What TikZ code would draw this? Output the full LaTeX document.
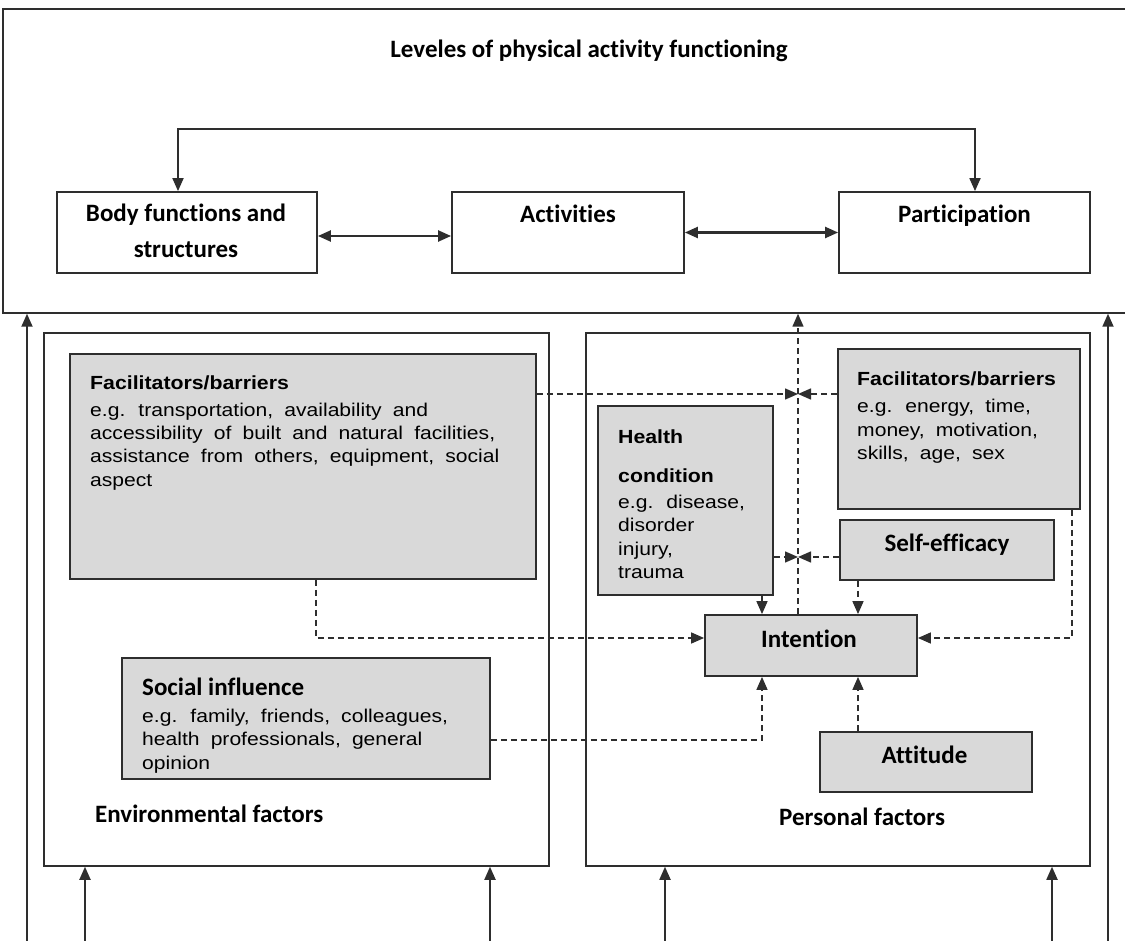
\documentclass[tikz,border=0pt]{standalone}
\usepackage{fontspec}
\usetikzlibrary{arrows.meta,calc}
\newfontfamily\lblfont{Carlito}[Ligatures=NoCommon]
\newfontfamily\txtfont{Liberation Sans}[FakeStretch=1.14,WordSpace=1.9]
\newfontfamily\hdfont{Liberation Sans}[FakeStretch=1.12]
\definecolor{boxgray}{HTML}{D9D9D9}
\definecolor{edge}{HTML}{2E2E2E}
\newcommand\lbl{\lblfont\bfseries\fontsize{25}{30}\selectfont}
\newcommand\mytxt{\txtfont\fontsize{18.5}{23.5}\selectfont}
\newcommand\hd{\hdfont\bfseries\fontsize{19}{23.5}\selectfont}
\newcommand\mlines[1]{\begin{tabular}[t]{@{}l@{}}#1\end{tabular}}
\begin{document}
\begin{tikzpicture}[x=1pt,y=-1pt,line join=miter,
  frame/.style={draw=edge,line width=1.5pt,fill=white,inner sep=0},
  wbox/.style={draw=edge,line width=1.8pt,fill=white,inner sep=0},
  gbox/.style={draw=edge,line width=1.8pt,fill=boxgray,inner sep=0},
  tip/.tip={Triangle[length=13pt,width=11pt]},
  sarr/.style={draw=edge,line width=1.8pt,-tip},
  sboth/.style={draw=edge,line width=2.2pt,tip-tip},
  darr/.style={draw=edge,line width=1.5pt,dash pattern=on 6pt off 4pt,-tip},
  txt/.style={anchor=base west,inner sep=0},
  ctxt/.style={anchor=base,inner sep=0}]
\useasboundingbox (0,0) rectangle (1125,941);
\fill[white] (0,0) rectangle (1125,941);

% top frame
\node[frame,minimum width=1130,minimum height=304] (topframe) at (568,161) {};
\node[ctxt,font=\lbl] (title) at (589,58) {Leveles of physical activity functioning};
\node[wbox,minimum width=260,minimum height=81] (body) at (187,232.5) {};
\node[ctxt,font=\lbl] (bodyt) at (186,222) {\begin{tabular}[t]{@{}c@{}}Body functions and\\[6pt] structures\end{tabular}};
\node[wbox,minimum width=232,minimum height=81] (act) at (568,232.5) {};
\node[ctxt,font=\lbl] (actt) at (568,223) {Activities};
\node[wbox,minimum width=251,minimum height=81] (part) at (964.5,232.5) {};
\node[ctxt,font=\lbl] (partt) at (964.5,223) {Participation};

% factor frames
\node[frame,minimum width=505,minimum height=533] (env) at (296.5,599.5) {};
\node[frame,minimum width=504,minimum height=533] (pers) at (838,599.5) {};

% environmental
\node[gbox,minimum width=466,minimum height=225] (envfac) at (303,466.5) {};
\node[txt,font=\hd] (envfach) at (90,390) {Facilitators/barriers};
\node[txt,font=\mytxt] (envfacb) at (90,416) {\mlines{e.g. transportation, availability and\\ accessibility of built and natural facilities,\\ assistance from others, equipment, social\\ aspect}};
\node[gbox,minimum width=368,minimum height=121] (social) at (306,718.5) {};
\node[txt,font=\lbl] (socialh) at (142,695) {Social influence};
\node[txt,font=\mytxt] (socialb) at (142,722) {\mlines{e.g. family, friends, colleagues,\\ health professionals, general\\ opinion}};
\node[txt,font=\lbl] (envl) at (95,822) {Environmental factors};

% personal
\node[gbox,minimum width=242,minimum height=160] (persfac) at (959,429) {};
\node[txt,font=\hd] (persfach) at (857,385) {Facilitators/barriers};
\node[txt,font=\mytxt] (persfacb) at (857,413) {\mlines{e.g. energy, time,\\ money, motivation,\\ skills, age, sex}};
\node[gbox,minimum width=175,minimum height=189] (health) at (685.5,500.5) {};
\node[txt,font=\hd] (healthh) at (618,443) {Health};
\node[txt,font=\hd] (healthc) at (618,482) {condition};
\node[txt,font=\mytxt] (healthb) at (618,508) {\mlines{e.g. disease,\\ disorder\\ injury,\\ trauma}};
\node[gbox,minimum width=214,minimum height=60] (self) at (947,550) {};
\node[ctxt,font=\lbl] (selft) at (947,551) {Self-efficacy};
\node[gbox,minimum width=212,minimum height=61] (intention) at (811,645.5) {};
\node[ctxt,font=\lbl] (intentiont) at (809,647) {Intention};
\node[gbox,minimum width=212,minimum height=60] (attitude) at (926,762) {};
\node[ctxt,font=\lbl] (attitudet) at (924.5,763) {Attitude};
\node[txt,font=\lbl] (persl) at (779,825) {Personal factors};

% solid connectors
\coordinate (topl) at (178,129);
\coordinate (topr) at (975,129);
\draw[draw=edge,line width=1.8pt,tip-tip] (topl |- body.north) -- (topl) -- (topr) -- (topr |- part.north);
\draw[sboth] ($(body.east)+(0,3.5)$) -- ($(act.west)+(0,3.5)$);
\draw[sboth] (act.east) -- (part.west);
\coordinate (bl) at (27,941);
\coordinate (br) at (1108,941);
\draw[sarr] (bl) -- (bl |- topframe.south);
\draw[sarr] (br) -- (br |- topframe.south);
\coordinate (e1) at (85,941);
\coordinate (e2) at (490,941);
\coordinate (p1) at (665,941);
\coordinate (p2) at (1052,941);
\draw[sarr] (e1) -- (e1 |- env.south);
\draw[sarr] (e2) -- (e2 |- env.south);
\draw[sarr] (p1) -- (p1 |- pers.south);
\draw[sarr] (p2) -- (p2 |- pers.south);

% dashed connectors
\coordinate (va) at (798,394);
\coordinate (vb) at (798,557);
\draw[darr] (envfac.east |- va) -- (va);
\draw[darr] (persfac.west |- va) -- (va);
\draw[darr] (health.east |- vb) -- (vb);
\draw[darr] (self.west |- vb) -- (vb);
\draw[darr] (intention.north -| va) -- (topframe.south -| va);
\coordinate (xh) at (762,0);
\coordinate (xs) at (858,0);
\draw[darr] (health.south -| xh) -- (intention.north -| xh);
\draw[darr] (self.south -| xs) -- (intention.north -| xs);
\draw[darr] (attitude.north -| xs) -- (intention.south -| xs);
\coordinate (yi) at (0,638);
\coordinate (xf) at (1072,0);
\coordinate (xe) at (316,0);
\draw[darr] (persfac.south -| xf) |- (intention.east |- yi);
\draw[darr] (envfac.south -| xe) |- (intention.west |- yi);
\coordinate (ys) at (0,740);
\draw[darr] (social.east |- ys) -| (intention.south -| xh);
\end{tikzpicture}
\end{document}
